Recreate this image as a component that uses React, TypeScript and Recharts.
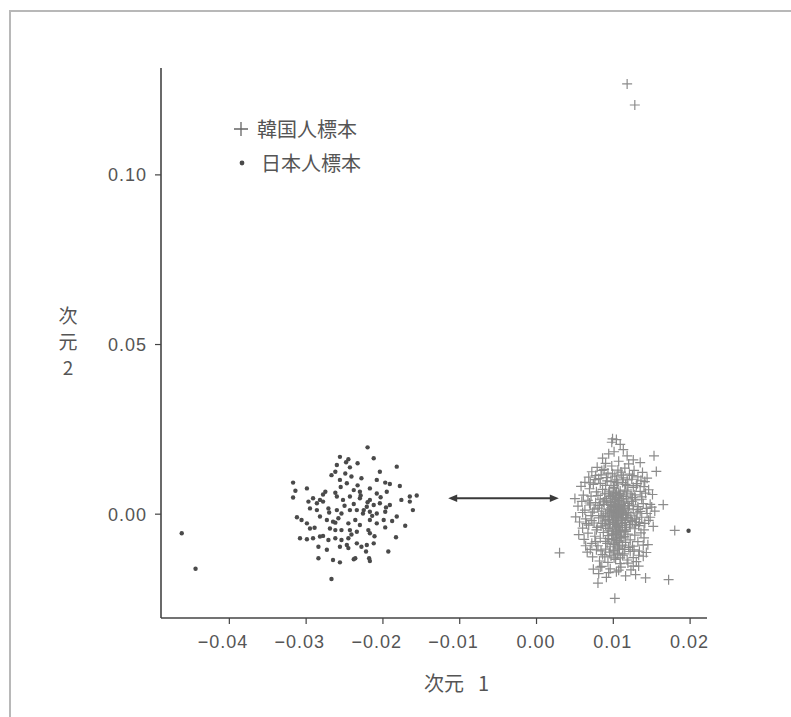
import React from 'react';
import { ScatterChart, Scatter, XAxis, YAxis, ReferenceLine, Legend } from 'recharts';

const xTicks = [-0.04, -0.03, -0.02, -0.01, 0, 0.01, 0.02];
const yTicks = [0, 0.05, 0.1];
const xDomain = [-0.0489, 0.0222];
const yDomain = [-0.0306, 0.1315];
const seriesNames = ['韓国人標本', '日本人標本'];
const xTitleParts = ['次元', '1'];
const yTitleChars = ['次', '元', '2'];

// distance arrow between the two groups
const arrowStart = { x: -0.0115, y: 0.0047 };
const arrowEnd = { x: 0.0029, y: 0.0047 };

const koreanPoints: [number, number][] = [
  [0.0118, 0.1268], [0.0128, 0.1206],
  [0.0098, 0.0212], [0.0104, 0.022], [0.0109, 0.0206], [0.0113, 0.019], [0.0099, 0.0222],
  [0.0153, 0.0172], [0.0156, 0.0126],
  [0.0086, 0.0165], [0.0094, 0.0178], [0.0101, 0.0184], [0.0118, 0.0172], [0.0126, 0.016],
  [0.0135, 0.0152], [0.009, 0.015], [0.0107, 0.0156], [0.012, 0.0148],
  [0.0072, 0.0125], [0.0079, 0.0138], [0.0084, 0.0116], [0.0088, 0.0132], [0.0093, 0.0121],
  [0.0098, 0.0142], [0.0102, 0.0112], [0.0106, 0.013], [0.011, 0.0124], [0.0115, 0.0136],
  [0.0121, 0.0118], [0.0127, 0.0129], [0.0132, 0.011], [0.0138, 0.0123], [0.0144, 0.0106],
  [0.0068, 0.0109], [0.0076, 0.0102], [0.0081, 0.0105], [0.0091, 0.0108], [0.0104, 0.0101],
  [0.0113, 0.0107], [0.0124, 0.0103],
  [0.0058, 0.0082], [0.0063, 0.0094], [0.0069, 0.0075], [0.0074, 0.0088], [0.0078, 0.0066],
  [0.0083, 0.0091], [0.0086, 0.0073], [0.009, 0.0085], [0.0094, 0.0062], [0.0097, 0.0096],
  [0.01, 0.0078], [0.0103, 0.0059], [0.0106, 0.0089], [0.0109, 0.0068], [0.0112, 0.0093],
  [0.0115, 0.0071], [0.0119, 0.0084], [0.0123, 0.006], [0.0126, 0.0079], [0.0131, 0.009],
  [0.0135, 0.0067], [0.014, 0.0081], [0.0146, 0.0072], [0.0151, 0.0058], [0.0061, 0.0056],
  [0.0071, 0.0053], [0.008, 0.0055], [0.0089, 0.006], [0.0096, 0.0052], [0.0108, 0.0055],
  [0.0117, 0.0053], [0.0128, 0.0057], [0.0137, 0.0051],
  [0.005, 0.0046], [0.0054, 0.0024], [0.0059, 0.0038], [0.0063, 0.0012], [0.0067, 0.0041],
  [0.007, 0.0027], [0.0073, 0.0006], [0.0077, 0.0034], [0.008, 0.0018], [0.0083, 0.0044],
  [0.0085, 0.0009], [0.0088, 0.0029], [0.0091, 0.0039], [0.0093, 0.0015], [0.0095, 0.0004],
  [0.0097, 0.0026], [0.0099, 0.0047], [0.0101, 0.0011], [0.0102, 0.0033], [0.0104, 0.002],
  [0.0105, 0.0002], [0.0107, 0.004], [0.0108, 0.0016], [0.011, 0.0028], [0.0111, 0.0007],
  [0.0113, 0.0036], [0.0115, 0.0019], [0.0117, 0.0045], [0.0119, 0.0005], [0.0121, 0.0025],
  [0.0124, 0.0038], [0.0126, 0.0013], [0.0129, 0.0042], [0.0132, 0.0022], [0.0135, 0.0008],
  [0.0139, 0.0031], [0.0143, 0.0017], [0.0148, 0.0029], [0.0154, 0.0009], [0.009, 0.0001],
  [0.01, 0.0023], [0.0106, 0.003], [0.0114, 0.0024], [0.0096, 0.0035], [0.0103, 0.0043],
  [0.0116, 0.0001], [0.0165, 0.0028],
  [0.01, 0.001], [0.0103, 0.0005], [0.0106, 0.0014], [0.0109, 0.0003], [0.0112, 0.0012],
  [0.0098, 0.0008], [0.0101, -0.0005], [0.0104, -0.001], [0.0107, -0.0003], [0.011, 0.0],
  [0.0102, 0.0027], [0.0108, 0.0022], [0.0097, 0.0019], [0.0113, 0.0016], [0.0105, 0.0049],
  [0.01, 0.0056], [0.0111, 0.0046], [0.0104, 0.0064],
  [0.0051, -0.0008], [0.0056, -0.0023], [0.006, -0.0041], [0.0064, -0.0014], [0.0068, -0.0032],
  [0.0071, -0.0004], [0.0075, -0.0026], [0.0078, -0.0046], [0.0081, -0.0011], [0.0084, -0.0035],
  [0.0087, -0.0006], [0.0089, -0.002], [0.0092, -0.0042], [0.0094, -0.0016], [0.0096, -0.003],
  [0.0098, -0.0003], [0.01, -0.0024], [0.0101, -0.0044], [0.0103, -0.0012], [0.0104, -0.0036],
  [0.0106, -0.0007], [0.0107, -0.0028], [0.0109, -0.0048], [0.011, -0.0019], [0.0112, -0.0033],
  [0.0113, -0.0002], [0.0115, -0.0025], [0.0117, -0.004], [0.0119, -0.001], [0.0121, -0.0031],
  [0.0123, -0.0005], [0.0125, -0.0022], [0.0128, -0.0043], [0.013, -0.0015], [0.0133, -0.0034],
  [0.0137, -0.0009], [0.0141, -0.0027], [0.0146, -0.0018], [0.0152, -0.0036], [0.0099, -0.0015],
  [0.0105, -0.002], [0.0111, -0.0009], [0.0102, -0.003], [0.0108, -0.0039], [0.0095, -0.0026],
  [0.0116, -0.0014], [0.018, -0.0048],
  [0.0099, -0.005], [0.0107, -0.0052], [0.0103, -0.004], [0.0109, -0.0064], [0.0102, -0.0073],
  [0.0106, -0.0084], [0.01, -0.009], [0.0105, -0.0118], [0.0101, -0.0129], [0.0108, -0.0102],
  [0.0055, -0.006], [0.0062, -0.0074], [0.0067, -0.0056], [0.0072, -0.0086], [0.0076, -0.0065],
  [0.008, -0.0093], [0.0083, -0.0071], [0.0087, -0.0054], [0.009, -0.008], [0.0093, -0.0063],
  [0.0096, -0.0096], [0.0098, -0.0075], [0.01, -0.0058], [0.0102, -0.0088], [0.0104, -0.0068],
  [0.0106, -0.0099], [0.0108, -0.0079], [0.011, -0.0053], [0.0112, -0.0091], [0.0114, -0.0066],
  [0.0116, -0.0083], [0.0119, -0.0059], [0.0122, -0.0076], [0.0125, -0.0094], [0.0128, -0.0062],
  [0.0132, -0.0081], [0.0136, -0.0055], [0.014, -0.007], [0.0145, -0.009], [0.0094, -0.0072],
  [0.0105, -0.006], [0.0111, -0.007], [0.003, -0.0114],
  [0.0066, -0.0112], [0.0073, -0.0126], [0.0078, -0.0105], [0.0082, -0.0138], [0.0086, -0.0119],
  [0.009, -0.0103], [0.0093, -0.0142], [0.0097, -0.0123], [0.01, -0.0108], [0.0103, -0.0133],
  [0.0106, -0.0115], [0.0109, -0.0146], [0.0112, -0.0121], [0.0115, -0.0104], [0.0118, -0.0135],
  [0.0122, -0.011], [0.0126, -0.0128], [0.013, -0.014], [0.0134, -0.0109], [0.0139, -0.0124],
  [0.0143, -0.0113],
  [0.0074, -0.0162], [0.0081, -0.0175], [0.0085, -0.0154], [0.0091, -0.0186], [0.0096, -0.0161],
  [0.0104, -0.017], [0.011, -0.0156], [0.0116, -0.0182], [0.0123, -0.0164], [0.0129, -0.0178],
  [0.0133, -0.0153], [0.0142, -0.0188], [0.0172, -0.0193], [0.008, -0.0203], [0.0102, -0.0248],
  [0.006, 0.0005], [0.0065, -0.0028], [0.0069, 0.0033], [0.0072, -0.0019], [0.0075, 0.0015],
  [0.0079, -0.0039], [0.0082, 0.0026], [0.0086, -0.0027], [0.0089, 0.0046], [0.0092, -0.0008],
  [0.0095, 0.0068], [0.0098, -0.0061], [0.0101, 0.0075], [0.0104, -0.0078], [0.0107, 0.0061],
  [0.011, -0.0069], [0.0113, 0.0052], [0.0116, -0.0051], [0.0119, 0.0032], [0.0122, -0.0038],
  [0.0125, 0.0049], [0.0128, -0.0012], [0.0131, 0.0004], [0.0134, -0.0024], [0.0137, 0.0044],
  [0.014, -0.0046], [0.0144, 0.0002], [0.0148, -0.0009], [0.015, 0.0021], [0.0142, 0.0062],
  [0.007, 0.0092], [0.0077, 0.0114], [0.0085, 0.0129], [0.0092, 0.0098], [0.0099, 0.0119],
  [0.0105, 0.0094], [0.0111, 0.0115], [0.0118, 0.0101], [0.0125, 0.0114], [0.013, 0.0084],
  [0.0136, 0.01], [0.0141, 0.0096],
  [0.0064, -0.0093], [0.007, -0.0104], [0.0077, -0.0081], [0.0084, -0.0108], [0.0089, -0.0126],
  [0.0095, -0.0112], [0.0102, -0.0106], [0.0109, -0.0129], [0.0114, -0.0117], [0.012, -0.0098],
  [0.0127, -0.0105], [0.0133, -0.0121], [0.0139, -0.0091], [0.0083, -0.0156], [0.0094, -0.0172],
  [0.0107, -0.0165], [0.0119, -0.0144], [0.0126, -0.0153],
  [0.0096, 0.0012], [0.0099, -0.002], [0.0102, 0.0038], [0.0105, -0.0034], [0.0108, 0.001],
  [0.0111, -0.0027], [0.0114, 0.0033], [0.0117, -0.0003], [0.012, 0.0016], [0.0093, 0.0029],
  [0.009, -0.0032], [0.0123, -0.0019], [0.01, -0.0009], [0.0106, 0.0025], [0.0112, -0.0015],
  [0.0097, 0.0054], [0.0109, 0.0059], [0.0115, -0.0046], [0.0103, -0.0056], [0.0094, -0.0049],
  [0.0118, 0.0066], [0.0087, 0.0036], [0.0084, -0.0004], [0.0126, 0.0027], [0.0129, -0.003],
  [0.0132, 0.0014], [0.0101, 0.0084], [0.0108, -0.0094], [0.0092, -0.0086], [0.0116, 0.0088],
];

const japanesePoints: [number, number][] = [
  [-0.022, 0.0197], [-0.0256, 0.0169], [-0.0245, 0.0162], [-0.0248, 0.0153], [-0.0212, 0.0165],
  [-0.0233, 0.015], [-0.026, 0.0145], [-0.0182, 0.014], [-0.0243, 0.0138], [-0.0262, 0.0125],
  [-0.0267, 0.0115], [-0.0249, 0.012], [-0.0241, 0.0111], [-0.0204, 0.0125], [-0.0228, 0.0106],
  [-0.0256, 0.0101], [-0.0208, 0.0101], [-0.0197, 0.0093], [-0.0191, 0.0089], [-0.0178, 0.0083],
  [-0.0247, 0.0091], [-0.0317, 0.0093], [-0.0299, 0.0076], [-0.0314, 0.0069], [-0.0317, 0.0049],
  [-0.0275, 0.0066], [-0.0262, 0.0063], [-0.0238, 0.0071], [-0.023, 0.0066], [-0.0217, 0.0076],
  [-0.0208, 0.0061], [-0.0195, 0.0066], [-0.0291, 0.0047], [-0.0282, 0.0042], [-0.0286, 0.0032],
  [-0.0278, 0.0037], [-0.026, 0.0052], [-0.0252, 0.0042], [-0.0243, 0.0052], [-0.023, 0.0047],
  [-0.0217, 0.0042], [-0.0212, 0.0027], [-0.0221, 0.0022], [-0.0204, 0.0032], [-0.0191, 0.0027],
  [-0.0176, 0.0042], [-0.0165, 0.0052], [-0.0156, 0.0055], [-0.0165, 0.0037], [-0.0161, 0.0012],
  [-0.0297, 0.0037], [-0.0295, 0.0017], [-0.0286, 0.0012], [-0.0271, 0.0017], [-0.026, 0.0012],
  [-0.0254, 0.0002], [-0.0243, 0.0012], [-0.0234, 0.0012], [-0.0225, 0.0012], [-0.0217, 0.0007],
  [-0.0208, 0.0002], [-0.0197, 0.0007], [-0.0182, -0.0007], [-0.0312, -0.0009], [-0.0306, -0.0017],
  [-0.0299, -0.0027], [-0.0295, -0.0042], [-0.0282, -0.0007], [-0.0273, -0.0017], [-0.0265, -0.0022],
  [-0.0258, -0.0012], [-0.0245, -0.0027], [-0.0236, -0.0017], [-0.023, -0.0032], [-0.0217, -0.0017],
  [-0.0208, -0.0027], [-0.0199, -0.0017], [-0.0197, -0.0039], [-0.0171, -0.0034], [-0.0269, -0.0042],
  [-0.0262, -0.0047], [-0.0254, -0.0047], [-0.0243, -0.0047], [-0.0234, -0.0052], [-0.0219, -0.0047],
  [-0.0217, -0.0056], [-0.0308, -0.0071], [-0.0299, -0.0074], [-0.0291, -0.0071], [-0.0282, -0.0066],
  [-0.0278, -0.0064], [-0.0271, -0.0076], [-0.0262, -0.0071], [-0.0254, -0.0076], [-0.0245, -0.0071],
  [-0.0234, -0.0086], [-0.0228, -0.0096], [-0.0221, -0.0091], [-0.0212, -0.0086], [-0.0183, -0.0068],
  [-0.0284, -0.0096], [-0.0256, -0.0096], [-0.0247, -0.0091], [-0.0193, -0.011], [-0.0284, -0.013],
  [-0.0265, -0.0135], [-0.0256, -0.0142], [-0.0238, -0.0133], [-0.0236, -0.013], [-0.0218, -0.013],
  [-0.0217, -0.0138], [-0.0267, -0.0191],
  [-0.025, 0.0025], [-0.0238, 0.003], [-0.0226, 0.0002], [-0.0214, -0.0005], [-0.0229, 0.0055],
  [-0.0262, -0.0025], [-0.027, 0.0005], [-0.0241, -0.006], [-0.022, 0.0035], [-0.0203, 0.005],
  [-0.0255, 0.008], [-0.0233, 0.0085], [-0.0211, -0.0065], [-0.0188, -0.002], [-0.0278, 0.0058],
  [-0.0289, -0.004], [-0.0196, 0.002], [-0.0245, -0.01], [-0.0222, -0.011], [-0.0273, -0.0105],
  [-0.0462, -0.0056], [-0.0444, -0.0161], [0.0198, -0.0049],
];

const koreanData = koreanPoints.map(([x, y]) => ({ x, y }));
const japaneseData = japanesePoints.map(([x, y]) => ({ x, y }));

const SANS = '"Liberation Sans", Arial, Helvetica, sans-serif';
const CJK = '"Noto Sans CJK JP", "Noto Sans", sans-serif';
const TEXT = '#555';
const AXIS = '#444';
const CROSS = '#8c8c8c';
const DOT = '#4a4a4a';

const fmt = (v: number) => (v < 0 ? '\u2212' : '') + Math.abs(v).toFixed(2);

const XTick = (props: any) => {
  const { x, y, payload } = props;
  return (
    <text x={x + 19} y={y} dy="0.71em" textAnchor="end" fill={TEXT} fontSize={18}
      fontFamily={SANS} letterSpacing={1}>
      {fmt(payload.value)}
    </text>
  );
};

const YTick = (props: any) => {
  const { x, y, payload } = props;
  return (
    <text x={x} y={y} dy="0.36em" textAnchor="end" fill={TEXT} fontSize={18}
      fontFamily={SANS} letterSpacing={1}>
      {fmt(payload.value)}
    </text>
  );
};

const Cross = (props: any) => {
  const { cx, cy } = props;
  if (cx == null || cy == null) return null;
  const a = 5;
  return (
    <path d={`M${cx - a},${cy}H${cx + a}M${cx},${cy - a}V${cy + a}`} stroke={CROSS}
      strokeWidth={1.2} fill="none" />
  );
};

const Dot = (props: any) => {
  const { cx, cy } = props;
  if (cx == null || cy == null) return null;
  return <circle cx={cx} cy={cy} r={2.2} fill={DOT} />;
};

const ArrowShape = (props: any) => {
  const { x1, y1, x2, y2 } = props;
  const h = 9;
  const w = 3.8;
  const c = '#3a3a3a';
  return (
    <g>
      <line x1={x1 + h - 2} y1={y1} x2={x2 - h + 2} y2={y2} stroke={c} strokeWidth={2} />
      <polygon points={`${x1},${y1} ${x1 + h},${y1 - w} ${x1 + h},${y1 + w}`} fill={c} />
      <polygon points={`${x2},${y2} ${x2 - h},${y2 - w} ${x2 - h},${y2 + w}`} fill={c} />
    </g>
  );
};

const XTitle = (props: any) => {
  const vb = props.viewBox || { x: 161, y: 618, width: 546 };
  const cx = vb.x + vb.width / 2;
  return (
    <text y={684} dy="0.35em" fill={TEXT} fontSize={20} fontFamily={CJK}>
      <tspan x={cx - 10}>{xTitleParts[0]}</tspan>
      <tspan x={cx + 44}>{xTitleParts[1]}</tspan>
    </text>
  );
};

const YTitle = () => (
  <text fill={TEXT} fontSize={19} fontFamily={CJK} textAnchor="middle">
    {yTitleChars.map((ch, i) => (
      <tspan key={i} x={68} y={316 + i * 26} dy="0.35em">{ch}</tspan>
    ))}
  </text>
);

const LegendContent = () => (
  <div style={{ position: 'relative', width: 200, height: 70, fontFamily: CJK, fontSize: 20, color: TEXT }}>
    <div style={{ position: 'absolute', left: 0, top: 0, height: 34, display: 'flex', alignItems: 'center' }}>
      <svg width={32} height={34} style={{ display: 'block' }}>
        <path d="M9,17H23M16,10V24" stroke="#666" strokeWidth={1.3} fill="none" />
      </svg>
      <span style={{ lineHeight: '34px' }}>{seriesNames[0]}</span>
    </div>
    <div style={{ position: 'absolute', left: 0, top: 33.5, height: 34, display: 'flex', alignItems: 'center' }}>
      <svg width={36} height={34} style={{ display: 'block' }}>
        <circle cx={17} cy={17} r={2.4} fill={DOT} />
      </svg>
      <span style={{ lineHeight: '34px' }}>{seriesNames[1]}</span>
    </div>
  </div>
);

export default function App() {
  return (
    <div style={{ position: 'absolute', left: 0, top: 0, width: 791, height: 717, background: '#fff', overflow: 'hidden' }}>
      <div style={{
        position: 'absolute', left: 9, top: 10, width: 800, height: 720,
        borderTop: '2px solid #b8b8b8', borderLeft: '2px solid #b8b8b8',
      }} />
      <div style={{ position: 'absolute', left: 0, top: 0 }}>
        <ScatterChart width={791} height={717} margin={{ top: 68, right: 84, bottom: 0, left: 1 }}>
          <XAxis dataKey="x" type="number" domain={xDomain} allowDataOverflow ticks={xTicks}
            interval={0} height={99} tickSize={6} tickMargin={11} tick={<XTick />}
            axisLine={{ stroke: AXIS, strokeWidth: 1.6 }} tickLine={{ stroke: AXIS, strokeWidth: 1.2 }}
            label={<XTitle />} />
          <YAxis dataKey="y" type="number" domain={yDomain} allowDataOverflow ticks={yTicks}
            interval={0} width={160} tickSize={6} tickMargin={8} tick={<YTick />}
            axisLine={{ stroke: AXIS, strokeWidth: 1.6 }} tickLine={{ stroke: AXIS, strokeWidth: 1.2 }}
            label={<YTitle />} />
          <Legend layout="horizontal" verticalAlign="middle" align="center" content={<LegendContent />}
            wrapperStyle={{ position: 'absolute', left: 225, top: 112, width: 200, height: 70 }} />
          <Scatter name={seriesNames[0]} data={koreanData} shape={<Cross />} isAnimationActive={false} />
          <Scatter name={seriesNames[1]} data={japaneseData} shape={<Dot />} isAnimationActive={false} />
          <ReferenceLine segment={[arrowStart, arrowEnd]} shape={<ArrowShape />} ifOverflow="visible" />
        </ScatterChart>
      </div>
    </div>
  );
}
